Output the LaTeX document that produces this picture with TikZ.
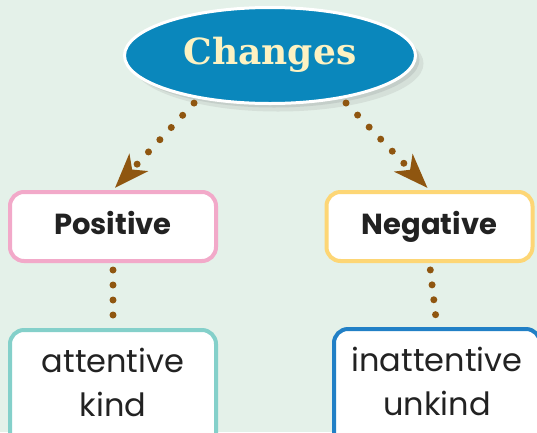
\documentclass[tikz,border=0pt]{standalone}
\usepackage{fontspec}
\usetikzlibrary{arrows.meta,shapes.geometric,positioning,shadows}
\newfontfamily\headfont{DejaVu Serif}
\newfontfamily\boxfont{Poppins}
\definecolor{bg}{HTML}{E4F1E9}
\definecolor{chblue}{HTML}{0A87BC}
\definecolor{cream}{HTML}{FDF2C2}
\definecolor{pinkb}{HTML}{F2A9C9}
\definecolor{yellb}{HTML}{FDD675}
\definecolor{tealb}{HTML}{84D0CA}
\definecolor{blueb}{HTML}{2180C6}
\definecolor{dotc}{HTML}{8F5610}
\definecolor{txt}{HTML}{222222}

\begin{document}
\begin{tikzpicture}[x=1pt,y=-1pt,node distance=65pt,
  topic/.style={ellipse,draw=white,line width=3pt,fill=chblue,minimum width=291pt,minimum height=96pt,inner sep=0pt,
    text=cream,text height=26pt,text depth=8pt,font=\headfont\bfseries\fontsize{36}{40}\selectfont,
    drop shadow={shadow xshift=4pt,shadow yshift=-4pt,opacity=.18},
    drop shadow={shadow xshift=8pt,shadow yshift=-8pt,opacity=.15}},
  side/.style={rectangle,rounded corners=14pt,fill=white,line width=4pt,minimum width=206pt,minimum height=69pt,
    text height=22pt,text depth=6pt,text=txt,font=\boxfont\bfseries\fontsize{29}{34}\selectfont},
  list/.style={rectangle,rounded corners=14pt,fill=white,line width=4pt,minimum width=206pt,
    inner ysep=4pt,text height=82pt,text depth=60pt,align=center,
    text=txt,font=\boxfont\fontsize{32}{44}\selectfont},
  dots/.style={draw=dotc,line width=7pt,line cap=round,dash pattern=on 0pt off 16.7pt,dash phase=10.7pt},
  vdots/.style={draw=dotc,line width=7pt,line cap=round,dash pattern=on 0pt off 15pt,dash phase=8pt},
  tip/.style={-{Stealth[length=35pt,width=26pt,inset=10pt,line width=0pt]},shorten >=3pt}]

\useasboundingbox (0,0) rectangle (537,432);
\clip (0,0) rectangle (537,432);
\fill[bg] (0,0) rectangle (537,432);

\node[topic] (ch) at (270,55.5) {Changes};

\node[side,draw=pinkb] (p) at (113,226.5) {Positive};
\node[side,draw=yellb] (n) at (429.5,226.5) {Negative};

\node[list,draw=tealb] (att) [below=of p] {attentive\\kind};
\node[list,draw=blueb] (inatt) [below=64pt of n,xshift=7.5pt] {inattentive\\unkind};

% connectors
\draw[dots,tip] (ch.211) -- (p.north);
\draw[dots,tip] (ch.329) -- (n.north);
\draw[vdots] (p.south) -- (att.north);
\draw[vdots] (n.south) -- (inatt.north);

\end{tikzpicture}
\end{document}
